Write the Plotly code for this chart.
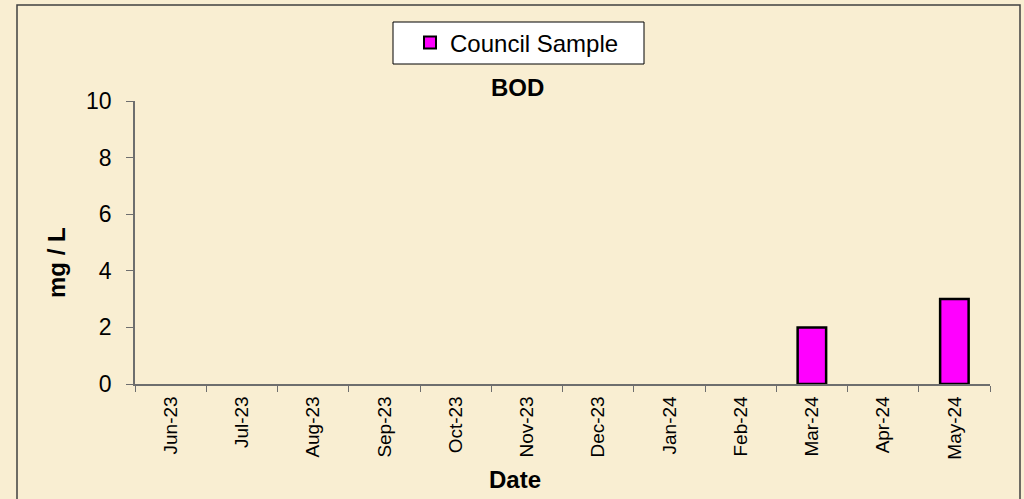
import plotly.graph_objects as go

categories = ["Jun-23", "Jul-23", "Aug-23", "Sep-23", "Oct-23", "Nov-23",
              "Dec-23", "Jan-24", "Feb-24", "Mar-24", "Apr-24", "May-24"]
council_sample = [None, None, None, None, None, None,
                  None, None, None, 2, None, 3]
y_ticks = [0, 2, 4, 6, 8, 10]

W, H = 1024, 499
L, R, T, B = 135, 34, 101, 115
PW, PH = W - L - R, H - T - B

def px(x):
    return (x - L) / PW

def py(y):
    return (H - B - y) / PH

bg = "#f9eed2"
font = "Liberation Sans, Arial, sans-serif"

fig = go.Figure()
fig.add_trace(go.Bar(
    x=categories, y=council_sample, name="Council Sample",
    marker=dict(color="#ff00ff", line=dict(color="#000000", width=2.5)),
    width=0.4,
))

fig.update_layout(
    width=W, height=H,
    margin=dict(l=L, r=R, t=T, b=B),
    paper_bgcolor=bg, plot_bgcolor="rgba(0,0,0,0)",
    font=dict(family=font, color="#000000"),
    showlegend=True,
    legend=dict(
        x=px(517), y=py(43), xanchor="center", yanchor="middle",
        bgcolor="rgba(0,0,0,0)", borderwidth=0,
        font=dict(size=24, family=font), orientation="h",
        itemsizing="constant",
    ),
    xaxis=dict(
        type="category", categoryorder="array", categoryarray=categories,
        tickangle=-90, tickfont=dict(size=19, family=font),
        showline=True, linecolor="#6e6e6e", linewidth=1.5,
        ticks="outside", tickson="boundaries", ticklen=6, tickcolor="#6e6e6e",
        showgrid=False, zeroline=False, range=[-0.5, 11.5],
        ticklabelstandoff=3,
    ),
    yaxis=dict(
        range=[0, 10], tickvals=y_ticks, tickfont=dict(size=23, family=font),
        showline=True, linecolor="#6e6e6e", linewidth=1.5,
        ticks="outside", ticklen=7, tickcolor="#6e6e6e",
        showgrid=False, zeroline=False, ticklabelstandoff=10,
    ),
    shapes=[
        dict(type="rect", xref="paper", yref="paper",
             x0=px(17), x1=px(1020), y0=py(520), y1=py(5),
             line=dict(color="#404040", width=1.5), fillcolor="rgba(0,0,0,0)",
             layer="below"),
        dict(type="rect", xref="paper", yref="paper",
             x0=px(393), x1=px(644), y0=py(64), y1=py(22),
             line=dict(color="#000000", width=1), fillcolor="#ffffff",
             layer="below"),
    ],
    annotations=[
        dict(text="<b>BOD</b>", x=px(517), y=py(88), xref="paper", yref="paper",
             showarrow=False, font=dict(size=24, family=font),
             xanchor="center", yanchor="middle"),
        dict(text="<b>Date</b>", x=px(515), y=py(479), xref="paper", yref="paper",
             showarrow=False, font=dict(size=24, family=font),
             xanchor="center", yanchor="middle"),
        dict(text="<b>mg / L</b>", x=px(56), y=py(263), xref="paper", yref="paper",
             showarrow=False, font=dict(size=24, family=font), textangle=-90,
             xanchor="center", yanchor="middle"),
    ],
)

fig.write_html("out.html", config={"displayModeBar": False},
               post_script="document.body.style.margin='0';document.body.style.background='%s';" % bg)
